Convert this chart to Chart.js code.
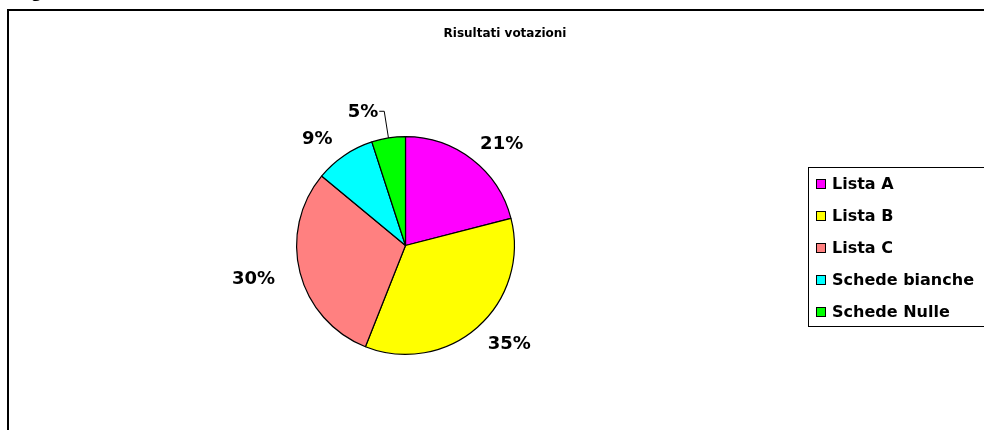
<!DOCTYPE html>
<html>
<head>
<meta charset="utf-8">
<style>
  html, body { margin: 0; padding: 0; background: #fff; }
  #wrap { width: 984px; height: 430px; position: relative; overflow: hidden; }
</style>
<script src="https://cdn.jsdelivr.net/npm/chart.js@4.4.0/dist/chart.umd.min.js"></script>
</head>
<body>
<div id="wrap"><canvas id="chart" width="984" height="430"></canvas></div>
<script>
const chartTitle = 'Risultati votazioni';
const categories = ['Lista A', 'Lista B', 'Lista C', 'Schede bianche', 'Schede Nulle'];
const percentages = [21, 35, 30, 9, 5];
const sliceColors = ['#FF00FF', '#FFFF00', '#FF8080', '#00FFFF', '#00FF00'];

const FONT = '"DejaVu Sans", Verdana, sans-serif';

// frame, title and the little cut-off text at the top
const frame = {
  id: 'frame',
  beforeDraw(chart) {
    const ctx = chart.ctx;
    ctx.save();
    ctx.fillStyle = '#fff';
    ctx.fillRect(0, 0, chart.width, chart.height);
    ctx.strokeStyle = '#000';
    ctx.lineWidth = 2;
    ctx.strokeRect(8, 10, 1200, 600);
    ctx.fillStyle = '#000';
    ctx.font = 'bold 16px ' + FONT;
    ctx.textBaseline = 'alphabetic';
    ctx.textAlign = 'left';
    ctx.fillText('g', 31, -2);
    ctx.font = 'bold 12px ' + FONT;
    ctx.textAlign = 'center';
    ctx.textBaseline = 'middle';
    ctx.fillText(chartTitle, 505, 34);
    ctx.restore();
  }
};

// legend box on the right
const sideLegend = {
  id: 'sideLegend',
  afterDraw(chart) {
    const ctx = chart.ctx;
    const ds = chart.data.datasets[0];
    ctx.save();
    ctx.strokeStyle = '#000';
    ctx.lineWidth = 1;
    ctx.strokeRect(808.5, 167.5, 300, 159);
    ctx.font = 'bold 16px ' + FONT;
    ctx.textBaseline = 'middle';
    ctx.textAlign = 'left';
    chart.data.labels.forEach((lab, i) => {
      const cy = Math.round(184 + i * 31.9);
      ctx.fillStyle = ds.backgroundColor[i];
      ctx.fillRect(816, cy - 5, 10, 10);
      ctx.strokeRect(816.5, cy - 4.5, 9, 9);
      ctx.fillStyle = '#000';
      ctx.fillText(lab, 832, cy + 1);
    });
    ctx.restore();
  }
};

// percentage labels around the pie
const pieLabels = {
  id: 'pieLabels',
  afterDatasetsDraw(chart) {
    const ctx = chart.ctx;
    const meta = chart.getDatasetMeta(0);
    ctx.save();
    ctx.font = 'bold 18px ' + FONT;
    ctx.fillStyle = '#000';
    ctx.strokeStyle = '#000';
    ctx.lineWidth = 1;
    ctx.textBaseline = 'middle';
    meta.data.forEach((arc, i) => {
      const p = arc.getProps(['x', 'y', 'startAngle', 'endAngle', 'outerRadius'], true);
      const mid = (p.startAngle + p.endAngle) / 2;
      const c = Math.cos(mid), s = Math.sin(mid);
      const text = percentages[i] + '%';
      if (percentages[i] < 6) {
        // small slice: label pulled out with a leader line
        const ex = p.x + c * p.outerRadius, ey = p.y + s * p.outerRadius;
        const lx = p.x + c * (p.outerRadius + 27), ly = p.y + s * (p.outerRadius + 27);
        ctx.beginPath();
        ctx.moveTo(ex, ey);
        ctx.lineTo(lx, ly);
        ctx.lineTo(lx - 5, ly);
        ctx.stroke();
        ctx.textAlign = 'right';
        ctx.fillText(text, lx - 6, ly + 1.5);
      } else {
        const rx = p.outerRadius + 48, ry = p.outerRadius + 21;
        ctx.textAlign = 'center';
        ctx.fillText(text, p.x + c * rx, p.y + s * ry + 1.5);
      }
    });
    ctx.restore();
  }
};

new Chart(document.getElementById('chart'), {
  type: 'pie',
  data: {
    labels: categories,
    datasets: [{
      data: percentages,
      backgroundColor: sliceColors,
      borderColor: '#000',
      borderWidth: 1.2,
      hoverOffset: 0,
      offset: 0
    }]
  },
  options: {
    responsive: false,
    animation: false,
    events: [],
    layout: {
      padding: { left: 296, right: 469, top: 136, bottom: 75 }
    },
    plugins: {
      legend: { display: false },
      tooltip: { enabled: false },
      title: { display: false }
    }
  },
  plugins: [frame, sideLegend, pieLabels]
});
</script>
</body>
</html>
